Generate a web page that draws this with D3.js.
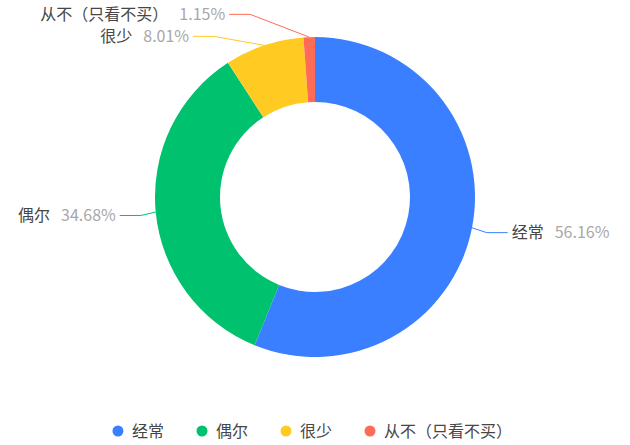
<!DOCTYPE html>
<html>
<head>
<meta charset="utf-8">
<script src="https://cdn.jsdelivr.net/npm/d3@7"></script>
<style>
  body { margin: 0; background: #fff; }
  text { font-family: "Noto Sans CJK SC", "Noto Sans", sans-serif; }
</style>
</head>
<body>
<div id="container"></div>
<script>
/* chart data */
const categories = ["经常", "偶尔", "很少", "从不（只看不买）"]
const values = [56.16, 34.68, 8.01, 1.15]
const colors = ["#3a7fff", "#00c16e", "#ffcb23", "#ff6c55"]

const width = 630
const height = 445
const cx = 315
const cy = 197
const outerR = 160
const innerR = 95
const len1 = 15
const len2 = 21
const lineGap = 22
const fontSize = 16

const svg = d3.select("#container")
  .append("svg")
  .attr("width", width)
  .attr("height", height)

const pie = d3.pie().sort(null).value((d) => d.value)
const arcs = pie(categories.map((c, i) => ({name: c, value: values[i], color: colors[i]})))
const arc = d3.arc().innerRadius(innerR).outerRadius(outerR)

const g = svg.append("g").attr("transform", "translate(" + cx + "," + cy + ")")
g.selectAll("path.slice")
  .data(arcs)
  .enter()
  .append("path")
  .attr("class", "slice")
  .attr("d", arc)
  .attr("fill", (d) => d.data.color)

/* label positions, echarts-like: push apart on each side, then realign on an ellipse */
const labels = arcs.map((d) => {
  const a = (d.startAngle + d.endAngle) / 2
  const sx = Math.sin(a), sy = -Math.cos(a)
  return {
    d: d,
    dir: sx >= 0 ? 1 : -1,
    p0: [sx * outerR, sy * outerR],
    x: sx * (outerR + len1),
    y: sy * (outerR + len1) + 2
  }
})
const rA = outerR + len1
;[1, -1].forEach((dir) => {
  const side = labels.filter((l) => l.dir === dir).sort((a, b) => a.y - b.y)
  let moved = false
  for (let k = 0; k < 20; k++) {
    let changed = false
    for (let i = 1; i < side.length; i++) {
      const gap = side[i].y - side[i - 1].y
      if (gap < lineGap) {
        // push the upper label more, like the reference does
        const need = lineGap - gap
        side[i].y += need * 0.25
        side[i - 1].y -= need * 0.75
        changed = true
        moved = true
      }
    }
    if (!changed) break
  }
  if (moved) {
    const maxDy = d3.max(side, (l) => Math.abs(l.y))
    const rB = Math.max(rA, maxDy + 14)
    side.forEach((l) => {
      const t = Math.max(0, 1 - (l.y * l.y) / (rB * rB))
      l.x = dir * Math.sqrt(t) * rA
    })
  }
})

const lg = g.selectAll("g.label")
  .data(labels)
  .enter()
  .append("g")
  .attr("class", "label")

lg.append("polyline")
  .attr("points", (l) => [l.p0, [l.x, l.y], [l.x + l.dir * len2, l.y]].map((p) => p.join(",")).join(" "))
  .attr("fill", "none")
  .attr("stroke", (l) => l.d.data.color)
  .attr("stroke-width", 1)

const lt = lg.append("text")
  .attr("x", (l) => l.x + l.dir * (len2 + 4))
  .attr("y", (l) => l.y)
  .attr("dy", "0.35em")
  .attr("text-anchor", (l) => l.dir > 0 ? "start" : "end")
  .attr("font-size", fontSize)
lt.append("tspan")
  .attr("fill", "#464646")
  .text((l) => l.d.data.name)
lt.append("tspan")
  .attr("fill", "#a8a8a8")
  .attr("dx", 11)
  .text((l) => l.d.data.value.toFixed(2) + "%")

/* legend */
const legend = svg.append("g").attr("transform", "translate(0,431)")
const items = legend.selectAll("g.item")
  .data(categories)
  .enter()
  .append("g")
  .attr("class", "item")
items.append("circle")
  .attr("r", 5.5)
  .attr("cy", 0)
  .attr("fill", (d, i) => colors[i])
items.append("text")
  .attr("x", 14)
  .attr("dy", "0.35em")
  .attr("font-size", fontSize)
  .attr("fill", "#464646")
  .text((d) => d)
let widths = []
items.each(function() { widths.push(14 + this.querySelector("text").getComputedTextLength()) })
const itemGap = 38
const total = d3.sum(widths) + itemGap * (widths.length - 1) + 6
let xPos = (width - total) / 2 + 3
items.attr("transform", (d, i) => {
  const t = "translate(" + xPos + ",0)"
  xPos += widths[i] + itemGap
  return t
})
</script>
</body>
</html>
